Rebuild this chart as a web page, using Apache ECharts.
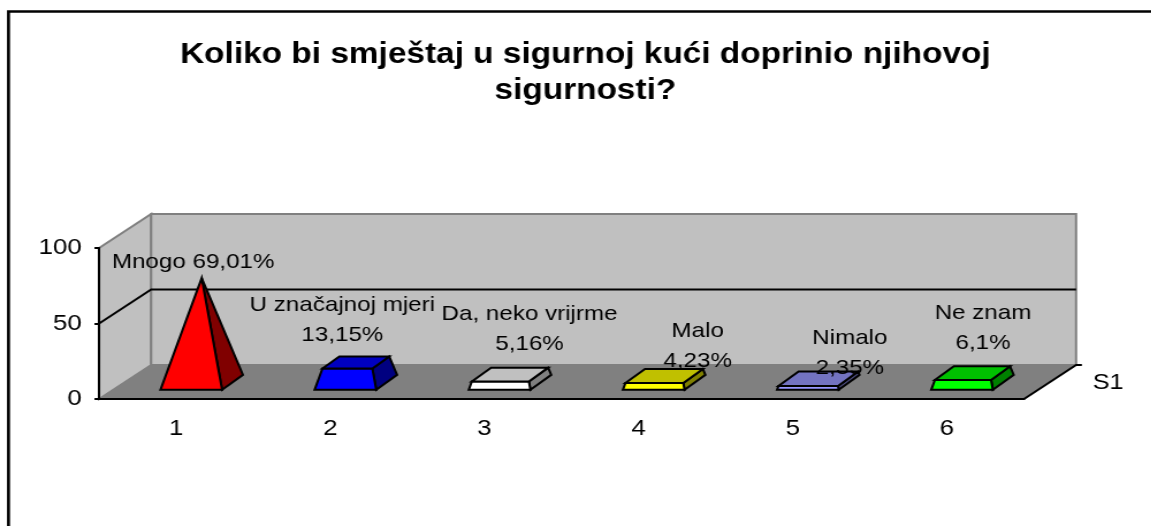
<!DOCTYPE html>
<html>
<head>
<meta charset="utf-8">
<style>
html, body { margin: 0; padding: 0; background: #fff; overflow: hidden; }
/* the reference is a horizontally stretched picture, so the whole canvas gets stretched too */
#main { transform-origin: 0 0; }
</style>
<script src="https://cdn.jsdelivr.net/npm/echarts@6/dist/echarts.min.js"></script>
</head>
<body>
<div id="main"></div>
<script>
var categories = ['1', '2', '3', '4', '5', '6'];
var values = [69.01, 13.15, 5.16, 4.23, 2.35, 6.1];
var labels = ['Mnogo 69,01%', 'U značajnoj mjeri\n13,15%', 'Da, neko vrijrme\n5,16%', 'Malo\n4,23%', 'Nimalo\n2,35%', 'Ne znam\n6,1%'];
var yTicks = [0, 50, 100];
var seriesName = 'S1';
var titleText = 'Koliko bi smještaj u sigurnoj kući doprinio njihovoj\nsigurnosti?';

var frontColors = ['#ff0000', '#0000ff', '#ffffff', '#ffff00', '#9999ff', '#00ff00'];
var topColors = ['#ff0000', '#0000c0', '#c0c0c0', '#c0c000', '#7373c0', '#00c000'];
var sideColors = ['#800000', '#000080', '#808080', '#808000', '#4d4d80', '#008000'];

// label offset from the bar's value point, in screen px
var labelOffsets = [[17, -33], [12, -59], [45, -62], [59, -46], [57, -42], [36, -62]];

var S = 1.15;
var W = 1151, H = 526;
var DEPTH_X = 52 / S, DEPTH_Y = -34;
var BAR_HALF = 0.2;       // of the category width
var DEPTH_MID = 0.49, DEPTH_HALF_X = 0.2, DEPTH_HALF_Y = 0.22;
var FONT = '"Liberation Sans", Arial, sans-serif';

var dom = document.getElementById('main');
dom.style.width = (W / S) + 'px';
dom.style.height = H + 'px';
dom.style.transform = 'scaleX(' + S + ')';
var myChart = echarts.init(dom, null, { width: W / S, height: H });

function poly(points, fill, stroke, lineWidth) {
    return {
        type: 'polygon',
        shape: { points: points },
        style: { fill: fill, stroke: stroke, lineWidth: lineWidth }
    };
}

function renderWalls(params, api) {
    var last = categories.length - 1;
    var top = yTicks[yTicks.length - 1];
    var band = api.size([1, 0])[0];
    var fx0 = api.coord([0, 0])[0] - band / 2;
    var fx1 = api.coord([last, 0])[0] + band / 2;
    var y0 = api.coord([0, 0])[1];
    var yt = api.coord([0, top])[1];
    var children = [
        poly([[fx0, y0], [fx0, yt], [fx0 + DEPTH_X, yt + DEPTH_Y], [fx0 + DEPTH_X, y0 + DEPTH_Y]], '#c0c0c0', '#808080', 2),
        poly([[fx0 + DEPTH_X, y0 + DEPTH_Y], [fx0 + DEPTH_X, yt + DEPTH_Y], [fx1 + DEPTH_X, yt + DEPTH_Y], [fx1 + DEPTH_X, y0 + DEPTH_Y]], '#c0c0c0', '#808080', 2),
        poly([[fx0, y0], [fx0 + DEPTH_X, y0 + DEPTH_Y], [fx1 + DEPTH_X, y0 + DEPTH_Y], [fx1, y0]], '#808080', '#808080', 1)
    ];
    // grid lines bend round the corner
    for (var i = 1; i < yTicks.length - 1; i++) {
        var y = api.coord([0, yTicks[i]])[1];
        children.push({
            type: 'polyline',
            shape: { points: [[fx0, y], [fx0 + DEPTH_X, y + DEPTH_Y], [fx1 + DEPTH_X, y + DEPTH_Y]] },
            style: { fill: 'none', stroke: '#000', lineWidth: 2 }
        });
    }
    // depth axis with its tick and series name
    children.push({
        type: 'polyline',
        shape: { points: [[fx1, y0], [fx1 + DEPTH_X, y0 + DEPTH_Y], [fx1 + DEPTH_X + 5, y0 + DEPTH_Y]] },
        style: { fill: 'none', stroke: '#000', lineWidth: 2 }
    });
    children.push({
        type: 'text',
        style: {
            text: seriesName,
            x: fx1 + DEPTH_X + 32 / S,
            y: y0 + DEPTH_Y + 18,
            fill: '#000',
            font: '22px ' + FONT,
            align: 'center',
            verticalAlign: 'middle'
        }
    });
    return { type: 'group', children: children };
}

function renderBar(params, api) {
    var i = params.dataIndex;
    var v = api.value(1);
    var maxV = Math.max.apply(null, values);
    var band = api.size([1, 0])[0];
    var base = api.coord([i, 0]);
    var valuePt = api.coord([i, v]);
    var rise = base[1] - valuePt[1];
    var cx = base[0] + DEPTH_MID * DEPTH_X;
    var cy = base[1] + DEPTH_MID * DEPTH_Y;
    var hw = BAR_HALF * band;
    var ddx = DEPTH_HALF_X * DEPTH_X;
    var ddy = DEPTH_HALF_Y * DEPTH_Y;
    // pyramid is cut at the value, the tallest one comes to a point
    var s = 1 - v / maxV;

    function corner(sx, sd, scale, up) {
        return [cx + scale * (sx * hw + sd * ddx), cy + scale * sd * ddy - up];
    }
    var fl = corner(-1, -1, 1, 0), fr = corner(1, -1, 1, 0), br = corner(1, 1, 1, 0);
    var tfl = corner(-1, -1, s, rise), tfr = corner(1, -1, s, rise);
    var tbr = corner(1, 1, s, rise), tbl = corner(-1, 1, s, rise);

    var children = [
        poly([fr, br, tbr, tfr], sideColors[i], '#000', 2),
        poly([fl, fr, tfr, tfl], frontColors[i], '#000', 2)
    ];
    if (s > 0) {
        children.push(poly([tfl, tfr, tbr, tbl], topColors[i], '#000', 2));
    }
    children.push({
        type: 'text',
        style: {
            text: labels[i],
            x: valuePt[0] + labelOffsets[i][0] / S,
            y: valuePt[1] + labelOffsets[i][1],
            fill: '#000',
            font: '21px ' + FONT,
            lineHeight: 30,
            align: 'center',
            verticalAlign: 'middle'
        }
    });
    return { type: 'group', children: children };
}

var option = {
    animation: false,
    backgroundColor: '#fff',
    title: {
        text: titleText,
        left: 579 / S,
        top: 32,
        textAlign: 'center',
        textStyle: { fontFamily: FONT, fontWeight: 'bold', fontSize: 29, lineHeight: 36, color: '#000' }
    },
    grid: { left: 99 / S, width: 924 / S, top: 248, height: 151 },
    xAxis: {
        type: 'category',
        data: categories,
        z: 5,
        axisLine: { lineStyle: { color: '#000', width: 2 } },
        axisTick: { length: 5, lineStyle: { color: '#000', width: 2 } },
        axisLabel: { color: '#000', fontFamily: FONT, fontSize: 22.5, margin: 18 }
    },
    yAxis: {
        type: 'value',
        min: yTicks[0],
        max: yTicks[yTicks.length - 1],
        interval: yTicks[1] - yTicks[0],
        z: 5,
        splitLine: { show: false },
        axisLine: { show: true, lineStyle: { color: '#000', width: 2 } },
        axisTick: { show: true, length: 4, lineStyle: { color: '#000', width: 2 } },
        axisLabel: { color: '#000', fontFamily: FONT, fontSize: 22.5, margin: 15, padding: [5, 0, 0, 0] }
    },
    graphic: [{
        type: 'polyline',
        silent: true,
        shape: { points: [[8.5 / S, H], [8.5 / S, 11.5], [W / S, 11.5]] },
        style: { fill: 'none', stroke: '#000', lineWidth: 2.6 }
    }],
    series: [
        { type: 'custom', name: 'walls', silent: true, z: 1, clip: false, data: [[0, 0]], renderItem: renderWalls },
        { type: 'custom', name: seriesName, silent: true, z: 2, clip: false, data: values.map(function (v, i) { return [i, v]; }), renderItem: renderBar }
    ]
};

if (option && typeof option === 'object') {
    myChart.setOption(option);
}
</script>
</body>
</html>
